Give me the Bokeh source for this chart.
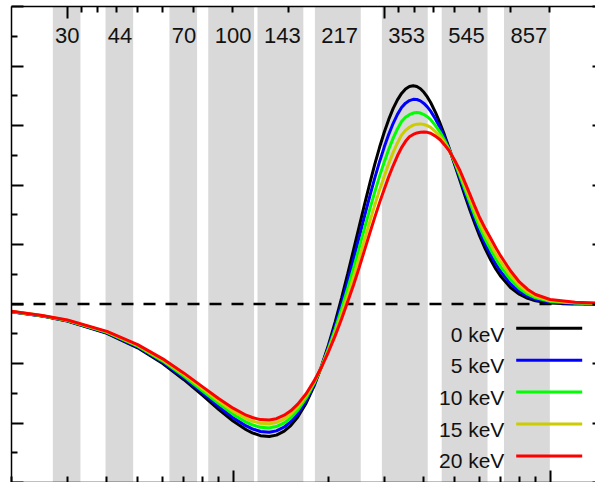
from bokeh.plotting import figure
from bokeh.models import Range1d, LogScale, LogAxis, LinearAxis, FixedTicker, Span, BoxAnnotation
from bokeh.embed import file_html
from bokeh.resources import INLINE
from bokeh.core.properties import value

# ---------------- data ----------------
bands = [30, 44, 70, 100, 143, 217, 353, 545, 857]          # GHz
band_width = [0.20, 0.20, 0.20, 0.33, 0.33, 0.33, 0.33, 0.33, 0.33]  # fractional

nu = [20, 25, 30, 40, 50, 60, 70, 80, 90, 100, 110, 115, 122, 130, 137, 145, 152, 160,
      170, 180, 190, 200, 210, 220, 230, 240, 250, 260, 270, 280, 290, 300, 310, 320,
      330, 340, 350, 360, 370, 380, 390, 400, 410, 420, 435, 450, 465, 480, 500, 520,
      540, 560, 580, 600, 625, 650, 675, 700, 750, 800, 850, 900, 1000, 1200, 1500]

dI_0keV = [-0.131, -0.203, -0.288, -0.494, -0.737, -1.001, -1.272, -1.533, -1.769, -1.967,
           -2.114, -2.166, -2.213, -2.227, -2.204, -2.137, -2.044, -1.899,
           -1.666, -1.380, -1.051, -0.687, -0.300, 0.103, 0.510, 0.914, 1.306, 1.680,
           2.029, 2.350, 2.638, 2.891, 3.107, 3.287,
           3.431, 3.539, 3.614, 3.656, 3.669, 3.655, 3.618, 3.558, 3.480, 3.386,
           3.221, 3.035, 2.834, 2.626, 2.345, 2.069,
           1.807, 1.564, 1.341, 1.141, 0.923, 0.739, 0.586, 0.461, 0.278, 0.164,
           0.094, 0.053, 0.016, 0.001, 0.000]
dI_5keV = [-0.129, -0.200, -0.283, -0.485, -0.723, -0.980, -1.243, -1.495, -1.722, -1.911,
           -2.050, -2.099, -2.143, -2.154, -2.132, -2.067, -1.980, -1.843,
           -1.625, -1.358, -1.054, -0.717, -0.360, 0.011, 0.388, 0.761, 1.127, 1.480,
           1.812, 2.119, 2.396, 2.641, 2.856, 3.037,
           3.187, 3.302, 3.376, 3.419, 3.440, 3.437, 3.414, 3.371, 3.313, 3.242,
           3.109, 2.961, 2.791, 2.614, 2.364, 2.108,
           1.859, 1.625, 1.408, 1.212, 1.001, 0.822, 0.668, 0.539, 0.342, 0.211,
           0.129, 0.078, 0.030, 0.008, 0.002]
dI_10keV = [-0.127, -0.197, -0.279, -0.477, -0.709, -0.960, -1.215, -1.458, -1.675, -1.855,
            -1.987, -2.032, -2.073, -2.082, -2.060, -1.998, -1.915, -1.786,
            -1.584, -1.337, -1.057, -0.747, -0.421, -0.080, 0.266, 0.608, 0.947, 1.280,
            1.595, 1.887, 2.154, 2.392, 2.605, 2.788,
            2.942, 3.066, 3.139, 3.182, 3.210, 3.218, 3.209, 3.184, 3.147, 3.097,
            2.997, 2.886, 2.748, 2.601, 2.383, 2.149,
            1.913, 1.689, 1.477, 1.286, 1.083, 0.909, 0.753, 0.620, 0.410, 0.261,
            0.165, 0.103, 0.044, 0.015, 0.005]
dI_15keV = [-0.125, -0.195, -0.274, -0.469, -0.695, -0.940, -1.187, -1.421, -1.630, -1.801,
            -1.925, -1.967, -2.005, -2.012, -1.991, -1.931, -1.853, -1.732,
            -1.544, -1.316, -1.060, -0.776, -0.479, -0.168, 0.148, 0.460, 0.775, 1.087,
            1.386, 1.665, 1.922, 2.152, 2.364, 2.548,
            2.707, 2.838, 2.919, 2.971, 3.006, 3.023, 3.027, 3.017, 2.998, 2.968,
            2.897, 2.818, 2.708, 2.590, 2.400, 2.190,
            1.967, 1.753, 1.547, 1.360, 1.164, 0.995, 0.838, 0.702, 0.477, 0.310,
            0.201, 0.129, 0.058, 0.022, 0.007]
dI_20keV = [-0.123, -0.192, -0.270, -0.461, -0.683, -0.922, -1.162, -1.388, -1.588, -1.751,
            -1.869, -1.908, -1.943, -1.948, -1.927, -1.869, -1.796, -1.682,
            -1.508, -1.297, -1.063, -0.803, -0.532, -0.249, 0.040, 0.325, 0.616, 0.910,
            1.194, 1.460, 1.708, 1.931, 2.142, 2.327,
            2.491, 2.629, 2.734, 2.810, 2.850, 2.875, 2.888, 2.890, 2.885, 2.870,
            2.821, 2.760, 2.674, 2.580, 2.415, 2.240,
            2.032, 1.830, 1.631, 1.450, 1.263, 1.100, 0.941, 0.800, 0.558, 0.370,
            0.244, 0.160, 0.075, 0.030, 0.010]

series = [dI_0keV, dI_5keV, dI_10keV, dI_15keV, dI_20keV]
labels = ["0 keV", "5 keV", "10 keV", "15 keV", "20 keV"]
colors = ["#000000", "#0000ff", "#00ff00", "#cccc00", "#ff0000"]

freq_major = [100, 1000]
freq_minor = [20, 30, 40, 50, 60, 70, 80, 90, 200, 300, 400, 500, 600, 700, 800, 900]
lam_major = [10, 1, 0.1]
lam_minor = [9, 8, 7, 6, 5, 4, 3, 2, 0.9, 0.8, 0.7, 0.6, 0.5, 0.4, 0.3, 0.2]
y_major = [-3, -2, -1, 0, 1, 2, 3, 4, 5]
y_minor = [-2.5, -1.5, -0.5, 0.5, 1.5, 2.5, 3.5, 4.5]

C_MM_GHZ = 299.792458
X_LO, X_HI = 20, 1391
Y_LO, Y_HI = -3, 5
FONT = "Liberation Sans"
TXT = "#111111"

# frame geometry in canvas pixels (used only to place the legend / band labels)
FX0, FX1, FY0, FY1 = 11, 594, 6, 481


def x_at(px):
    return X_LO * (X_HI / X_LO) ** ((px - FX0) / (FX1 - FX0))


def y_at(py):
    return Y_HI - (py - FY0) / (FY1 - FY0) * (Y_HI - Y_LO)


# ---------------- figure ----------------
p = figure(width=595, height=482, x_axis_type="log",
           x_range=Range1d(X_LO, X_HI), y_range=Range1d(Y_LO, Y_HI),
           output_backend="svg", toolbar_location=None,
           min_border_left=11, min_border_top=6, min_border_right=0, min_border_bottom=0)
p.grid.visible = False
p.outline_line_color = None
p.background_fill_color = "white"
p.border_fill_color = "white"


def style_axis(ax, tin, tmin, line=True):
    ax.major_tick_in = tin
    ax.major_tick_out = 0
    ax.minor_tick_in = tmin
    ax.minor_tick_out = 0
    ax.major_tick_line_width = 2
    ax.minor_tick_line_width = 2
    ax.major_tick_line_color = "black"
    ax.minor_tick_line_color = "black" if tmin > 0 else None
    ax.major_label_text_font_size = "1px"
    ax.major_label_text_alpha = 0
    ax.major_label_standoff = 0
    ax.axis_line_width = 1.5
    ax.axis_line_color = "black" if line else None


# bottom: frequency (GHz)
bx = p.xaxis[0]
bx.ticker = FixedTicker(ticks=freq_major, minor_ticks=freq_minor)
style_axis(bx, 12, 6)

# left
ly = p.yaxis[0]
ly.ticker = FixedTicker(ticks=y_major, minor_ticks=y_minor)
style_axis(ly, 12, 6)

# top: wavelength (mm)
p.extra_x_ranges = {"lam": Range1d(C_MM_GHZ / X_LO, C_MM_GHZ / X_HI)}
p.extra_x_scales = {"lam": LogScale()}
top = LogAxis(x_range_name="lam", ticker=FixedTicker(ticks=lam_major, minor_ticks=lam_minor))
style_axis(top, 12, 6)
p.add_layout(top, "above")

# right (only short stubs visible)
ry = LinearAxis(ticker=FixedTicker(ticks=y_major, minor_ticks=[]))
style_axis(ry, 3, 0, line=False)
p.add_layout(ry, "right")

# Planck bands
left = [b * (1 - w / 2) for b, w in zip(bands, band_width)]
right = [b * (1 + w / 2) for b, w in zip(bands, band_width)]
bq = p.quad(left=left, right=right, bottom=Y_LO, top=Y_HI,
            fill_color="#d9d9d9", line_color=None)
bq.level = "underlay"

zero = Span(location=0, dimension="width", line_color="black", line_width=2.5,
            line_dash="12 10", level="underlay")
p.add_layout(zero)

p.text(x=bands, y=[y_at(34.5)] * len(bands), text=[str(b) for b in bands],
       text_align="center", text_baseline="middle",
       text_font=value(FONT), text_font_size="22px", text_color=TXT)

for vals, col in zip(series, colors):
    p.line(nu, vals, line_color=col, line_width=3)

# legend (text left of the sample line)
leg_text_y = [y_at(333.0 + 31.6 * i) for i in range(len(labels))]
p.text(x=[x_at(503)] * len(labels), y=leg_text_y, text=labels,
       text_align="right", text_baseline="middle",
       text_font=value(FONT), text_font_size="21px", text_color=TXT)
for i, col in enumerate(colors):
    line_py = 326.8 + 31.9 * i
    p.add_layout(BoxAnnotation(left=504.7, right=570.7,
                               bottom=(FY1 - line_py) - 1.5, top=(FY1 - line_py) + 1.5,
                               left_units="screen", right_units="screen",
                               top_units="screen", bottom_units="screen",
                               fill_color=col, fill_alpha=1.0, line_color=None, level="overlay"))

open("out.html", "w").write(file_html(p, INLINE))
